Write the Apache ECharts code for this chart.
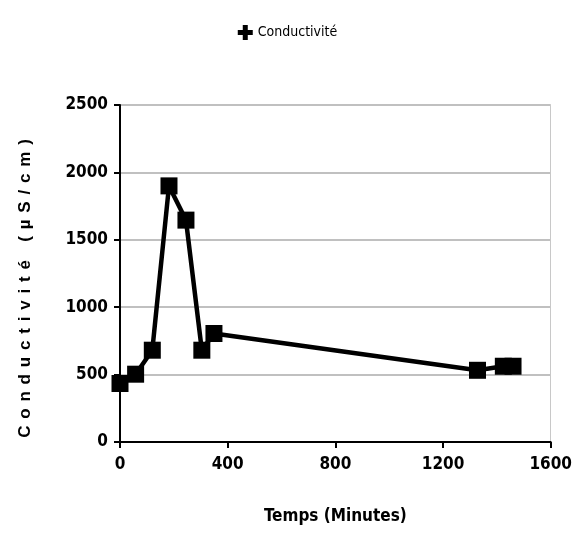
<!DOCTYPE html>
<html>
<head>
<meta charset="utf-8">
<script src="https://cdn.jsdelivr.net/npm/echarts@6/dist/echarts.min.js"></script>
<style>
  html, body { margin: 0; padding: 0; background: #fff; }
  #chart { width: 575px; height: 559px; }
</style>
</head>
<body>
<div id="chart"></div>
<script>
const timeMinutes = [0, 58, 120, 182, 245, 304, 349, 1328, 1424, 1460]
const conductivity = [434, 503, 681, 1900, 1646, 681, 805, 532, 562, 562]

const narrowFont = '"DejaVu Sans Condensed", "Liberation Sans Narrow", sans-serif'
const gap = '\u2009\u2009'

const chart = echarts.init(document.getElementById('chart'), null, { renderer: 'canvas' })

chart.setOption({
  animation: false,
  backgroundColor: '#fff',
  legend: {
    top: 20,
    left: 'center',
    itemWidth: 15,
    itemHeight: 15,
    itemGap: 4,
    icon: 'path://M8,0 L16,0 L16,8 L24,8 L24,16 L16,16 L16,24 L8,24 L8,16 L0,16 L0,8 L8,8 Z',
    textStyle: { fontFamily: narrowFont, fontSize: 14, color: '#000' },
    data: ['Conductivité']
  },
  grid: { left: 120, right: 24, top: 105, bottom: 117 },
  xAxis: {
    type: 'value',
    min: 0,
    max: 1600,
    interval: 400,
    name: 'Temps (Minutes)',
    nameLocation: 'middle',
    nameGap: 66,
    nameTextStyle: { fontFamily: narrowFont, fontSize: 17, fontWeight: 'bold', color: '#000' },
    axisLine: { show: true, lineStyle: { color: '#000', width: 2 } },
    axisTick: { show: true, length: 6, lineStyle: { color: '#000', width: 2 } },
    axisLabel: { fontFamily: narrowFont, fontSize: 17, fontWeight: 'bold', color: '#000', margin: 14, formatter: v => String(v) },
    splitLine: { show: false }
  },
  yAxis: [{
    type: 'value',
    min: 0,
    max: 2500,
    interval: 500,
    name: 'Conductivité (µS/cm)'.split('').join(gap),
    nameLocation: 'middle',
    nameGap: 86,
    nameTextStyle: { fontFamily: '"Liberation Sans", Arial, sans-serif', fontSize: 17, fontWeight: 'bold', color: '#000', padding: [0, 30, 0, 0] },
    axisLine: { show: true, lineStyle: { color: '#000', width: 2 } },
    axisTick: { show: true, length: 6, lineStyle: { color: '#000', width: 2 } },
    axisLabel: { fontFamily: narrowFont, fontSize: 17, fontWeight: 'bold', color: '#000', margin: 12, formatter: v => String(v) },
    splitLine: { show: true, lineStyle: { color: '#c0c0c0', width: 2 } }
  }, {
    type: 'value',
    position: 'right',
    min: 0,
    max: 2500,
    interval: 500,
    axisLine: { show: true, lineStyle: { color: '#c8c8c8', width: 1 } },
    axisTick: { show: false },
    axisLabel: { show: false },
    splitLine: { show: false }
  }],
  series: [{
    name: 'Conductivité',
    type: 'line',
    yAxisIndex: 0,
    data: timeMinutes.map((t, i) => [t, conductivity[i]]),
    symbol: 'rect',
    symbolSize: 17,
    itemStyle: { color: '#000' },
    lineStyle: { color: '#000', width: 4.5 }
  }]
})
</script>
</body>
</html>
